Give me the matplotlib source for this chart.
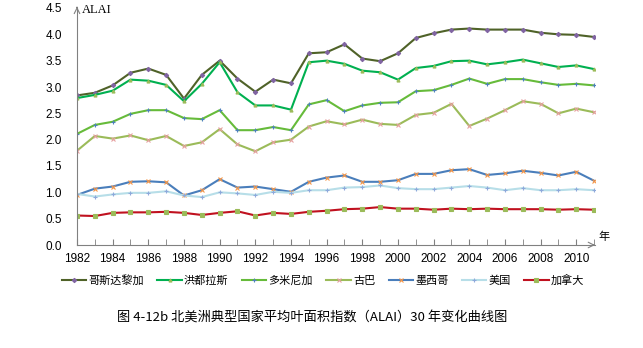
import matplotlib.pyplot as plt
import numpy as np

years = list(range(1982, 2012))

costa_rica = [2.84, 2.89, 3.03, 3.27, 3.35, 3.23, 2.78, 3.23, 3.50, 3.16,
              2.91, 3.14, 3.07, 3.64, 3.66, 3.81, 3.54, 3.49, 3.64, 3.93,
              4.02, 4.09, 4.11, 4.09, 4.09, 4.09, 4.03, 4.00, 3.99, 3.95]
honduras = [2.79, 2.85, 2.93, 3.14, 3.12, 3.04, 2.73, 3.06, 3.47, 2.90,
            2.65, 2.65, 2.57, 3.47, 3.50, 3.44, 3.31, 3.28, 3.14, 3.36,
            3.40, 3.49, 3.50, 3.43, 3.47, 3.52, 3.45, 3.38, 3.41, 3.34]
dominican = [2.11, 2.28, 2.34, 2.49, 2.56, 2.56, 2.41, 2.39, 2.56, 2.18,
             2.18, 2.24, 2.18, 2.67, 2.75, 2.54, 2.65, 2.70, 2.71, 2.92,
             2.94, 3.04, 3.16, 3.06, 3.15, 3.15, 3.09, 3.04, 3.06, 3.03]
cuba = [1.79, 2.07, 2.02, 2.08, 1.99, 2.07, 1.88, 1.95, 2.20, 1.91,
        1.78, 1.95, 2.00, 2.25, 2.35, 2.29, 2.38, 2.30, 2.28, 2.47,
        2.51, 2.68, 2.26, 2.40, 2.56, 2.73, 2.68, 2.50, 2.59, 2.52]
mexico = [0.95, 1.07, 1.11, 1.20, 1.21, 1.19, 0.94, 1.04, 1.25, 1.09,
          1.11, 1.06, 1.01, 1.20, 1.28, 1.32, 1.20, 1.20, 1.23, 1.35,
          1.35, 1.42, 1.44, 1.33, 1.36, 1.41, 1.37, 1.32, 1.39, 1.22]
usa = [0.97, 0.92, 0.96, 0.99, 0.99, 1.02, 0.94, 0.91, 1.00, 0.98,
       0.95, 1.01, 0.99, 1.04, 1.04, 1.09, 1.10, 1.13, 1.08, 1.06,
       1.06, 1.09, 1.12, 1.09, 1.04, 1.08, 1.04, 1.04, 1.06, 1.04]
canada = [0.56, 0.55, 0.61, 0.62, 0.62, 0.63, 0.61, 0.57, 0.61, 0.64,
          0.56, 0.61, 0.59, 0.63, 0.65, 0.68, 0.69, 0.72, 0.69, 0.69,
          0.67, 0.69, 0.68, 0.69, 0.68, 0.68, 0.68, 0.67, 0.68, 0.67]

names = ['哥斯达黎加', '洪都拉斯', '多米尼加', '古巴', '墨西哥', '美国', '加拿大']
series = [costa_rica, honduras, dominican, cuba, mexico, usa, canada]
# line colour, marker, marker colour
styles = [('#4f6228', 'D', '#8064a2'),
          ('#00b050', '^', '#9bbb59'),
          ('#66bb3a', '+', '#4f81bd'),
          ('#9bbb59', 'x', '#e6a0a0'),
          ('#4a7ebb', 'x', '#f79646'),
          ('#b7dee8', '+', '#8ea9db'),
          ('#c0111f', 's', '#9bbb59')]

plt.rcParams['font.family'] = ['Liberation Sans', 'Noto Sans CJK SC']
cjk = ['Noto Sans CJK SC', 'DejaVu Sans']

fig = plt.figure(figsize=(6.43, 3.48), dpi=100)
ax = fig.add_axes([77 / 643, 1 - 245 / 348, (595 - 77) / 643, (245 - 8) / 348])

for name, vals, (lc, mk, mc) in zip(names, series, styles):
    ms = 2.2 if mk in ('D', 's', '^') else 3
    ax.plot(years, vals, color=lc, lw=1.5, marker=mk, ms=ms,
            mfc=mc, mec=mc, mew=0.8, label=name)

ax.set_xlim(1982, 2011.05)
ax.set_ylim(0, 4.5)
ax.set_xticks(years, minor=True)
ax.set_xticks(range(1982, 2011, 2))
ax.set_yticks(np.arange(0, 4.51, 0.5))
ax.set_yticklabels(['%.1f' % v for v in np.arange(0, 4.51, 0.5)])
ax.tick_params(axis='x', which='both', direction='in', length=4, color='#808080',
               labelsize=8.5, pad=6)
ax.tick_params(axis='y', length=0, labelsize=8.5, pad=11)
for s in ['top', 'right']:
    ax.spines[s].set_visible(False)
for s in ['left', 'bottom']:
    ax.spines[s].set_color('#808080')

# axis arrows
ax.annotate('', xy=(1, 0), xytext=(0.99, 0), xycoords='axes fraction',
            arrowprops=dict(arrowstyle='->', color='#808080', lw=0.8), annotation_clip=False)
ax.annotate('', xy=(0, 1.005), xytext=(0, 0.99), xycoords='axes fraction',
            arrowprops=dict(arrowstyle='->', color='#808080', lw=0.8), annotation_clip=False)

fig.text(82 / 643, 1 - 10 / 348, 'ALAI', family='Liberation Serif', fontsize=9, va='center')
fig.text(598 / 643, 1 - 237 / 348, '年', family=cjk, fontsize=8, va='center')

leg = fig.legend(loc='center', bbox_to_anchor=(323 / 643, 1 - 280 / 348), ncol=7,
                 frameon=False, prop={'family': cjk, 'size': 8},
                 handlelength=2.2, handletextpad=0.2, columnspacing=1.2)

fig.text(312 / 643, 1 - 318 / 348, '图 4-12b 北美洲典型国家平均叶面积指数（ALAI）30 年变化曲线图',
         family=cjk, fontsize=9.5, ha='center', va='center')

fig.savefig('out.png', dpi=100)
